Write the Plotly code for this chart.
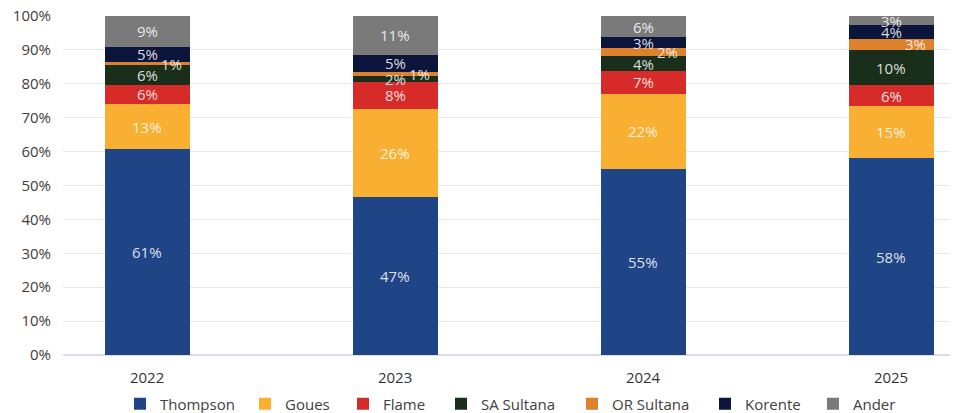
import plotly.graph_objects as go

years = ["2022", "2023", "2024", "2025"]
series_names = ["Thompson", "Goues", "Flame", "SA Sultana", "OR Sultana", "Korente", "Ander"]
thompson = [60.7, 46.6, 54.9, 58.1]
goues = [13.4, 26.0, 22.1, 15.4]
flame = [5.6, 8.0, 6.8, 6.1]
sa_sultana = [5.8, 1.6, 4.3, 10.4]
or_sultana = [0.8, 1.3, 2.4, 3.2]
korente = [4.7, 5.1, 3.2, 4.1]
ander = [9.0, 11.4, 6.3, 2.7]

colors = ["#1f4586", "#f9b032", "#d62b29", "#1a2f1b", "#dd812c", "#0c153b", "#7a7a7a"]
all_vals = [thompson, goues, flame, sa_sultana, or_sultana, korente, ander]

# page is rendered with an 8px body margin
W, H = 950, 405
plot_left, plot_right = 55, 950
legend_px = [112, 237, 335, 433, 564, 697, 805]

fig = go.Figure()
legend_layouts = {}
for k, (name, vals, col) in enumerate(zip(series_names, all_vals, colors)):
    lg = "legend" if k == 0 else f"legend{k + 1}"
    fig.add_trace(go.Bar(x=years, y=vals, name=name, marker=dict(color=col, line=dict(width=0)),
                         width=0.343, legend=lg))
    legend_layouts[lg] = dict(orientation="h", x=(legend_px[k] - plot_left) / (plot_right - plot_left),
                              xanchor="left", y=-0.1445, yanchor="middle",
                              font=dict(size=15, color="#404040"), bgcolor="rgba(0,0,0,0)",
                              borderwidth=0)

annotations = []
cum = [0.0] * len(years)
for si, vals in enumerate(all_vals):
    for i, v in enumerate(vals):
        mid = cum[i] + v / 2
        annotations.append(dict(x=i, y=mid, xref="x", yref="y", text=f"{round(v):.0f}%", showarrow=False,
                                xshift=24 if series_names[si] == "OR Sultana" else 0,
                                font=dict(size=15, color="rgba(255,255,255,0.85)")))
        cum[i] += v

fig.update_layout(
    barmode="stack",
    width=W, height=H,
    margin=dict(l=plot_left, r=W - plot_right, t=8, b=58, autoexpand=False),
    paper_bgcolor="white", plot_bgcolor="white",
    font=dict(family="Open Sans", size=15, color="#404040"),
    annotations=annotations,
    showlegend=True,
    bargap=0,
    **legend_layouts,
)
fig.update_xaxes(type="category", range=[-0.339, 3.27], showgrid=False, showline=False,
                 ticks="", ticklabelstandoff=12, tickfont=dict(size=15, color="#333333"))
fig.update_yaxes(range=[0, 100], dtick=10, ticksuffix="%", showgrid=True, gridcolor="#e6e6ee",
                 gridwidth=1, zeroline=True, zerolinecolor="#dcdce6", zerolinewidth=2,
                 ticklabelstandoff=11, ticklabeloverflow="allow",
                 tickfont=dict(size=15, color="#404040"))
fig.write_html("out.html")
